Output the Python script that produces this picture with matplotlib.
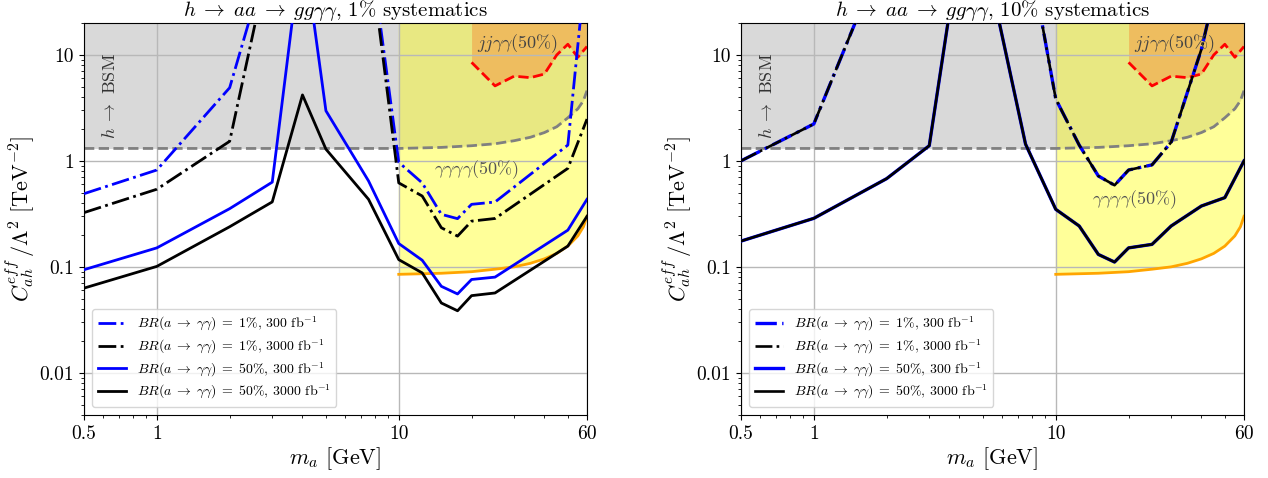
import matplotlib
matplotlib.use("Agg")
import matplotlib.pyplot as plt
from matplotlib.ticker import LogLocator, NullFormatter, FixedLocator, FixedFormatter

plt.rcParams['font.family'] = 'serif'
plt.rcParams['font.serif'] = ['cmr10', 'DejaVu Serif']
plt.rcParams['mathtext.fontset'] = 'cm'
plt.rcParams['axes.formatter.use_mathtext'] = True

# ---------------- data ----------------
# 1% systematics panel
m_1 = [0.5, 1, 2, 3, 4, 5, 7.5, 10, 12.5, 15, 17.5, 20, 25, 50, 60]
br1_300_sys1 = [0.49, 0.82, 4.9, 116, 300, 300, 130, 0.97, 0.62, 0.313, 0.285, 0.389, 0.409, 1.41, 90]
br1_3000_sys1 = [0.325, 0.54, 1.53, 110, 300, 300, 115, 0.62, 0.466, 0.234, 0.195, 0.27, 0.286, 0.85, 2.48]
br50_300_sys1 = [0.094, 0.151, 0.354, 0.63, 125, 2.97, 0.647, 0.166, 0.1155, 0.0655, 0.0555, 0.076, 0.080, 0.222, 0.434]
br50_3000_sys1 = [0.063, 0.101, 0.239, 0.41, 4.19, 1.29, 0.434, 0.117, 0.0877, 0.0456, 0.0385, 0.0535, 0.0567, 0.157, 0.30]

# 10% systematics panel
m_10 = [0.5, 1, 2, 3, 4, 5, 7.5, 10, 12.5, 15, 17.5, 20, 25, 30, 40, 50, 60]
br1_300_sys10 = [1.0, 2.23, 107, 300, 300, 300, 144, 3.84, 1.41, 0.72, 0.589, 0.82, 0.917, 1.5, 11.3, 100, 300]
br1_3000_sys10 = [1.0, 2.23, 107, 300, 300, 300, 144, 3.84, 1.41, 0.72, 0.589, 0.82, 0.917, 1.5, 11.3, 100, 300]
br50_300_sys10 = [0.175, 0.287, 0.68, 1.39, 105, 105, 1.44, 0.349, 0.243, 0.131, 0.111, 0.151, 0.163, 0.243, 0.375, 0.45, 1.0]
br50_3000_sys10 = [0.175, 0.287, 0.68, 1.39, 105, 105, 1.44, 0.349, 0.243, 0.131, 0.111, 0.151, 0.163, 0.243, 0.375, 0.45, 1.0]

# h -> BSM bound (gray dashed)
m_bsm = [0.5, 10, 15, 20, 25, 30, 35, 40, 45, 50, 55, 58, 60]
c_bsm = [1.31, 1.31, 1.34, 1.39, 1.45, 1.55, 1.67, 1.85, 2.1, 2.55, 3.1, 3.7, 4.6]

# gamma gamma gamma gamma (50%) bound (orange)
m_4g = [10, 15, 20, 25, 30, 35, 40, 45, 50, 55, 58, 60]
c_4g = [0.085, 0.087, 0.09, 0.095, 0.10, 0.108, 0.119, 0.134, 0.157, 0.196, 0.239, 0.30]

# jj gamma gamma (50%) bound (red dashed)
m_jj = [20, 25, 30, 35, 40, 45, 50, 55, 60]
c_jj = [8.5, 5.1, 6.3, 6.1, 6.6, 10.0, 12.6, 9.5, 12.0]

xticks = [0.5, 1, 10, 60]
xtick_labels = ['0.5', '1', '10', '60']
yticks = [0.01, 0.1, 1, 10]
ytick_labels = ['0.01', '0.1', '1', '10']

titles = [r'$h\;\to\;aa\;\to\;gg\gamma\gamma$, 1% systematics',
          r'$h\;\to\;aa\;\to\;gg\gamma\gamma$, 10% systematics']
labels = [r'$BR(a\;\to\;\gamma\gamma)\;=\;1\%$, 300 fb$^{-1}$',
          r'$BR(a\;\to\;\gamma\gamma)\;=\;1\%$, 3000 fb$^{-1}$',
          r'$BR(a\;\to\;\gamma\gamma)\;=\;50\%$, 300 fb$^{-1}$',
          r'$BR(a\;\to\;\gamma\gamma)\;=\;50\%$, 3000 fb$^{-1}$']

panels = [
    (m_1, br1_300_sys1, br1_3000_sys1, br50_300_sys1, br50_3000_sys1, (14.0, 0.83)),
    (m_10, br1_300_sys10, br1_3000_sys10, br50_300_sys10, br50_3000_sys10, (14.1, 0.434)),
]

W, H = 1268, 478
fig = plt.figure(figsize=(W / 100, H / 100), dpi=100)
lefts = [84, 741]
TOP = 1e4

for i, (m, b1_300, b1_3000, b50_300, b50_3000, gpos) in enumerate(panels):
    ax = fig.add_axes([lefts[i] / W, 63 / H, 503 / W, 392 / H])
    ax.set_xscale('log')
    ax.set_yscale('log')

    ax.fill_between(m_bsm, c_bsm, TOP, color='#d9d9d9', lw=0, zorder=1)
    ax.fill_between(m_4g, c_4g, TOP, color='yellow', alpha=0.4, lw=0, zorder=1.1)
    ax.fill_between(m_jj, c_jj, TOP, color='#EEBD5F', lw=0, zorder=1.2)

    ax.plot(m_bsm, c_bsm, color='gray', ls='--', lw=2, zorder=2.5)
    ax.plot(m_4g, c_4g, color='orange', lw=2, zorder=2.5)
    ax.plot(m_jj, c_jj, color='red', ls='--', lw=2, zorder=2.5)

    if i == 0:
        ax.plot(m, b1_300, color='blue', ls='-.', lw=2, label=labels[0], zorder=3)
        ax.plot(m, b1_3000, color='black', ls='-.', lw=2, label=labels[1], zorder=3)
        ax.plot(m, b50_300, color='blue', ls='-', lw=2, label=labels[2], zorder=3)
        ax.plot(m, b50_3000, color='black', ls='-', lw=2, label=labels[3], zorder=3)
    else:
        ax.plot(m, b1_300, color='blue', ls='-.', lw=2.4, label=labels[0], zorder=3)
        ax.plot(m, b1_3000, color='black', ls='-.', lw=1.9, label=labels[1], zorder=3.1)
        ax.plot(m, b50_300, color='blue', ls='-', lw=2.4, label=labels[2], zorder=3)
        ax.plot(m, b50_3000, color='black', ls='-', lw=1.9, label=labels[3], zorder=3.1)

    ax.text(0.64, 4.1, r'$h\;\to$ BSM', rotation=90, ha='center', va='center',
            fontsize=13, color='#333333', zorder=4)
    ax.text(21, 12.7, r'$jj\gamma\gamma(50\%)$', ha='left', va='center',
            fontsize=13, color='#444444', zorder=4)
    ax.text(gpos[0], gpos[1], r'$\gamma\gamma\gamma\gamma(50\%)$', ha='left', va='center',
            fontsize=13, color='#555555', zorder=4)

    ax.set_xlim(0.5, 60)
    ax.set_ylim(0.004, 20)
    ax.xaxis.set_major_locator(FixedLocator(xticks))
    ax.xaxis.set_major_formatter(FixedFormatter(xtick_labels))
    ax.xaxis.set_minor_locator(LogLocator(base=10, subs=range(2, 10), numticks=20))
    ax.xaxis.set_minor_formatter(NullFormatter())
    ax.yaxis.set_major_locator(FixedLocator(yticks))
    ax.yaxis.set_major_formatter(FixedFormatter(ytick_labels))
    ax.yaxis.set_minor_locator(LogLocator(base=10, subs=range(2, 10), numticks=20))
    ax.yaxis.set_minor_formatter(NullFormatter())
    ax.tick_params(which='major', labelsize=14)
    ax.grid(True, which='major', color='#b8b8b8', lw=1)

    ax.set_xlabel(r'$m_a$ [GeV]', fontsize=16, labelpad=2)
    ax.set_ylabel(r'$C^{eff}_{ah}\,/\Lambda^2$ [TeV$^{-2}$]', fontsize=16, labelpad=2)
    ax.set_title(titles[i], fontsize=15, pad=1)
    ax.legend(loc='lower left', fontsize=10, framealpha=0.8, labelspacing=0.3,
              borderaxespad=0.6)

fig.savefig('out.png', dpi=100)
